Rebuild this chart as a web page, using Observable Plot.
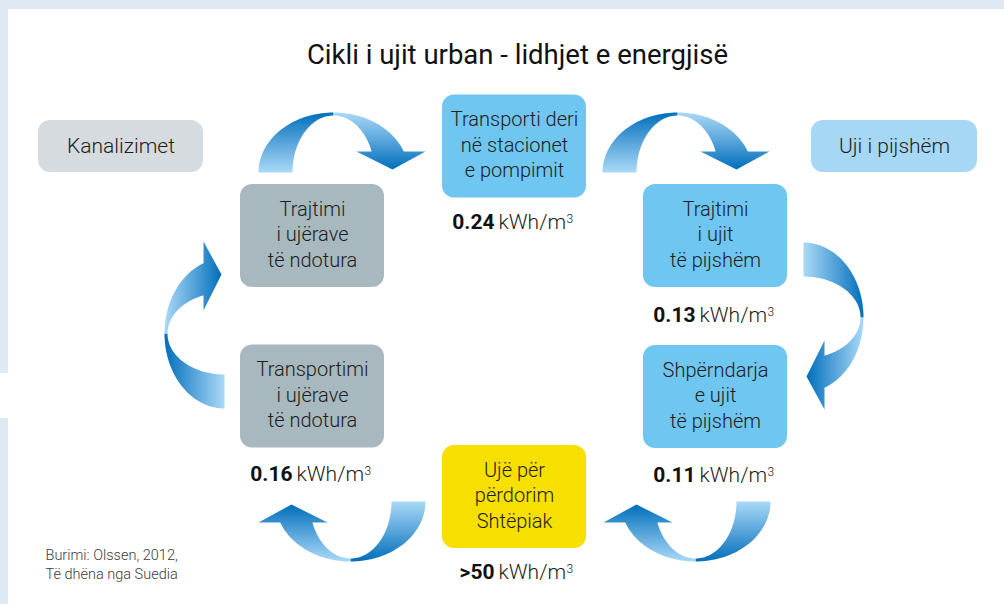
<!DOCTYPE html>
<html>
<head>
<meta charset="utf-8">
<script src="https://cdn.jsdelivr.net/npm/d3@7"></script>
<script src="https://cdn.jsdelivr.net/npm/@observablehq/plot@0.6"></script>
<style>
  html, body { margin: 0; padding: 0; background: #ffffff; }
  #chart { width: 1004px; height: 604px; overflow: hidden; }
  #chart svg { display: block; }
</style>
</head>
<body>
<div id="chart"></div>
<script>
// ---------------- DATA ----------------
const title = "Cikli i ujit urban - lidhjet e energjisë";
const stages = [
  "Transporti deri\nnë stacionet\ne pompimit",
  "Trajtimi\ni ujit\ntë pijshëm",
  "Shpërndarja\ne ujit\ntë pijshëm",
  "Ujë për\npërdorim\nShtëpiak",
  "Transportimi\ni ujërave\ntë ndotura",
  "Trajtimi\ni ujërave\ntë ndotura"
];
const stageGroups = ["clean", "clean", "clean", "home", "waste", "waste"];
const energyValues = ["0.24", "0.13", "0.11", ">50", "0.16"];
const energyUnit = "kWh/m";
const energyUnitExponent = "3";
const legendLabels = ["Kanalizimet", "Uji i pijshëm"];
const legendGroups = ["sewer", "drinking"];
const sourceLines = ["Burimi: Olssen, 2012,", "Të dhëna nga Suedia"];

// ---------------- LAYOUT / STYLE ----------------
const W = 1004, H = 604;
const groupColors = {clean: "#6ec6f1", home: "#f7df00", waste: "#a8b8bf", sewer: "#d6dbe0", drinking: "#a6d8f5"};
const textColor = "#1d1d1b";
const font = "Roboto, 'Noto Sans', sans-serif";
const boxW = 144, boxH = 103;
const stageCenters = [[514, 146], [715, 235.5], [715, 396.5], [514, 496.5], [312, 396], [312, 235.5]];
const energyBaselines = [228, 321, 481, 578, 480];
const legendBoxes = [[38, 203, 120, 172], [811, 977, 120, 172]];
const titlePos = [517, 63];
const sourcePos = [45, 559, 19];
const unitSize = 21;

// width of the unit text, to place its exponent
const ctx = document.createElement("canvas").getContext("2d");
ctx.font = `300 ${unitSize}px Roboto`;
const unitWidth = ctx.measureText(energyUnit).width;

const stageData = stages.map((s, i) => ({
  label: s, fill: groupColors[stageGroups[i]],
  x1: stageCenters[i][0] - boxW / 2, x2: stageCenters[i][0] + boxW / 2,
  y1: stageCenters[i][1] - boxH / 2, y2: stageCenters[i][1] + boxH / 2,
  cx: stageCenters[i][0], cy: stageCenters[i][1]
}));
const energyData = energyValues.map((v, i) => ({
  value: v, unit: energyUnit, exp: energyUnitExponent, cx: stageCenters[i][0], y: energyBaselines[i]
}));
const legendData = legendLabels.map((l, i) => ({
  label: l, fill: groupColors[legendGroups[i]],
  x1: legendBoxes[i][0], x2: legendBoxes[i][1], y1: legendBoxes[i][2], y2: legendBoxes[i][3],
  cx: (legendBoxes[i][0] + legendBoxes[i][1]) / 2, cy: (legendBoxes[i][2] + legendBoxes[i][3]) / 2
}));
const sourceData = sourceLines.map((t, i) => ({text: t, x: sourcePos[0], y: sourcePos[1] + i * sourcePos[2]}));

// background frame
const frame = [
  {x1: 0, x2: W, y1: 0, y2: 9},
  {x1: 0, x2: 8, y1: 0, y2: 373},
  {x1: 0, x2: 8, y1: 418, y2: H}
];

// ---------------- ARROW GEOMETRY ----------------
const Ra = 75, Rb = 60, ra = 41, rb = 57, hEnd = 21;
const arrows = [
  {c: [333, 172], dir: "up"},
  {c: [677, 172], dir: "up"},
  {c: [803, 317], dir: "right"},
  {c: [695, 501], dir: "down"},
  {c: [350, 501], dir: "down"},
  {c: [224, 333], dir: "left"}
];
const T = {
  up: (c, [u, v]) => [c[0] + u, c[1] + v],
  right: (c, [u, v]) => [c[0] - v, c[1] + u],
  down: (c, [u, v]) => [c[0] - u, c[1] - v],
  left: (c, [u, v]) => [c[0] + v, c[1] - u]
};
const N = 40;
const half1 = [], half2 = [];
for (let i = 0; i <= N; i++) { const p = Math.PI - (Math.PI / 2) * i / N; half1.push([Ra * Math.cos(p), -Rb * Math.sin(p)]); }
for (let i = 0; i <= N; i++) { const p = Math.PI / 2 + (Math.PI / 2) * i / N; half1.push([ra * Math.cos(p), -rb * Math.sin(p)]); }
const po = Math.asin(hEnd / Rb), pin = Math.asin(hEnd / rb);
for (let i = 0; i <= N; i++) { const p = Math.PI / 2 - (Math.PI / 2 - po) * i / N; half2.push([Ra * Math.cos(p), -Rb * Math.sin(p)]); }
half2.push([92, -hEnd], [59, -3], [23, -hEnd]);
for (let i = 0; i <= N; i++) { const p = pin + (Math.PI / 2 - pin) * i / N; half2.push([ra * Math.cos(p), -rb * Math.sin(p)]); }
const gradLocal = [[[0, 0], [0, -Rb]], [[0, -Rb], [0, -3]]];

const arrowMarks = [];
const gradients = [];
arrows.forEach((a, i) => {
  [half1, half2].forEach((shape, k) => {
    const id = `arrowGrad${i}_${k}`;
    const pts = shape.map(p => { const [x, y] = T[a.dir](a.c, p); return {x, y}; });
    const g0 = T[a.dir](a.c, gradLocal[k][0]);
    const g1 = T[a.dir](a.c, gradLocal[k][1]);
    gradients.push({id, g0, g1});
    arrowMarks.push(Plot.line(pts, {x: "x", y: "y", fill: `url(#${id})`, stroke: "none", curve: "linear"}));
  });
});

// ---------------- PLOT ----------------
const svg = Plot.plot({
  width: W, height: H,
  margin: 0,
  x: {domain: [0, W], range: [0, W], axis: null},
  y: {domain: [0, H], range: [0, H], axis: null},
  color: {type: "identity"},
  style: {fontFamily: font, background: "transparent", overflow: "visible"},
  marks: [
    Plot.rect(frame, {x1: "x1", x2: "x2", y1: "y1", y2: "y2", fill: "#dfe9f3"}),
    ...arrowMarks,
    Plot.rect(legendData, {x1: "x1", x2: "x2", y1: "y1", y2: "y2", fill: "fill", rx: 12}),
    Plot.text(legendData, {x: "cx", y: "cy", text: "label", fontSize: 21, fontWeight: 300, fill: textColor, fontFamily: font}),
    Plot.rect(stageData, {x1: "x1", x2: "x2", y1: "y1", y2: "y2", fill: "fill", rx: 12}),
    Plot.text(stageData, {x: "cx", y: "cy", dy: -3, text: "label", lineHeight: 1.27, fontSize: 20, fontWeight: 300, fill: textColor, fontFamily: font}),
    Plot.text(energyData, {x: "cx", y: "y", dx: -20, text: "value", textAnchor: "end", lineAnchor: "bottom", fontSize: 21, fontWeight: 700, fill: "#111", fontFamily: font}),
    Plot.text(energyData, {x: "cx", y: "y", dx: -16, text: "unit", textAnchor: "start", lineAnchor: "bottom", fontSize: unitSize, fontWeight: 300, fill: textColor, fontFamily: font}),
    Plot.text(energyData, {x: "cx", y: "y", dx: -16 + unitWidth + 0.5, dy: -6, text: "exp", textAnchor: "start", lineAnchor: "bottom", fontSize: 12, fontWeight: 300, fill: textColor, fontFamily: font}),
    Plot.text([title], {x: () => titlePos[0], y: () => titlePos[1], text: d => d, lineAnchor: "bottom", fontSize: 27.5, fontWeight: 400, fill: "#111", fontFamily: font}),
    Plot.text(sourceData, {x: "x", y: "y", text: "text", textAnchor: "start", lineAnchor: "bottom", fontSize: 14.5, fontWeight: 300, fill: "#3c3c3b", fontFamily: font})
  ]
});

// gradient definitions for the arrow ribbons
const defs = d3.select(svg).insert("defs", ":first-child");
gradients.forEach(({id, g0, g1}) => {
  const lg = defs.append("linearGradient").attr("id", id).attr("gradientUnits", "userSpaceOnUse")
    .attr("x1", g0[0]).attr("y1", g0[1]).attr("x2", g1[0]).attr("y2", g1[1]);
  lg.append("stop").attr("offset", "0%").attr("stop-color", "#aad9f6");
  lg.append("stop").attr("offset", "55%").attr("stop-color", "#4f9fd8");
  lg.append("stop").attr("offset", "100%").attr("stop-color", "#006fba");
});

document.getElementById("chart").appendChild(svg);
</script>
</body>
</html>
